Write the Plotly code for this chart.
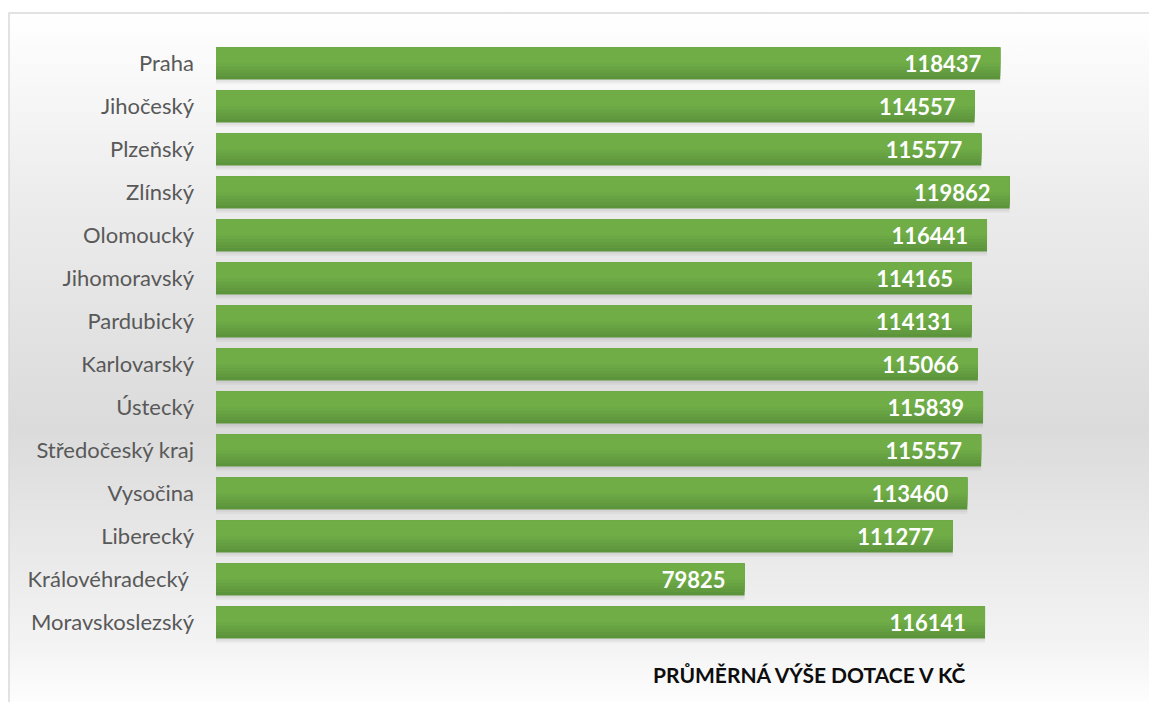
import base64
import plotly.graph_objects as go

# ---- data ----
regions = ["Praha", "Jihočeský", "Plzeňský", "Zlínský", "Olomoucký", "Jihomoravský",
           "Pardubický", "Karlovarský", "Ústecký", "Středočeský kraj", "Vysočina",
           "Liberecký", "Královéhradecký ", "Moravskoslezský"]
values = [118437, 114557, 115577, 119862, 116441, 114165, 114131, 115066, 115839,
          115557, 113460, 111277, 79825, 116141]
title_text = "PRŮMĚRNÁ VÝŠE DOTACE V KČ"

# ---- layout geometry (pixels; page body has an 8px margin) ----
OFF = 8
W, H = 1157 - OFF, 702 - OFF
ML, MR, MT, MB = 216 - OFF, 14, 42 - OFF, 58
PW, PH = W - ML - MR, H - MT - MB


def px_x(px):  # screen px -> paper
    return (px - OFF - ML) / PW


def px_y(py):
    return (H - MB - (py - OFF)) / PH


# background gradient (white -> gray -> white, vertical)
svg = (
    '<svg xmlns="http://www.w3.org/2000/svg" width="100" height="100" preserveAspectRatio="none">'
    '<defs><linearGradient id="g" x1="0" y1="0" x2="0" y2="1">'
    '<stop offset="0" stop-color="#ffffff"/>'
    '<stop offset="0.27" stop-color="#ececec"/>'
    '<stop offset="0.6" stop-color="#dbdbdb"/>'
    '<stop offset="0.92" stop-color="#f4f4f4"/>'
    '<stop offset="1" stop-color="#fefefe"/>'
    '</linearGradient></defs>'
    '<rect x="0" y="0" width="100" height="100" fill="url(#g)"/></svg>'
)
bg_src = "data:image/svg+xml;base64," + base64.b64encode(svg.encode()).decode()

ticktext = [r.replace(" ", "\u00a0") for r in regions]

fig = go.Figure()

bw = 0.745
# soft shadow
fig.add_trace(go.Bar(y=regions, x=values, orientation="h", width=bw + 0.05,
                     offset=-bw / 2 + 0.05, marker=dict(color="rgba(0,0,0,0.045)", line=dict(width=0)),
                     hoverinfo="skip", showlegend=False))
fig.add_trace(go.Bar(y=regions, x=values, orientation="h", width=bw + 0.02,
                     offset=-bw / 2 + 0.03, marker=dict(color="rgba(0,0,0,0.04)", line=dict(width=0)),
                     hoverinfo="skip", showlegend=False))

# gradient layers for the bars (dark bottom -> light top)
dark = (92, 148, 60)
light = (112, 173, 71)
fracs = [1.0, 0.9, 0.8, 0.7, 0.6, 0.5]
n = len(fracs)
for i, f in enumerate(fracs):
    t = i / (n - 1)
    c = tuple(round(dark[k] + (light[k] - dark[k]) * t) for k in range(3))
    fig.add_trace(go.Bar(y=regions, x=values, orientation="h", width=bw * f,
                         offset=-bw / 2, marker=dict(color="rgb(%d,%d,%d)" % c, line=dict(width=0)),
                         hoverinfo="skip", showlegend=False))

# value labels
fig.add_trace(go.Bar(y=regions, x=values, orientation="h", width=bw, offset=-bw / 2,
                     marker=dict(color="rgba(0,0,0,0)", line=dict(width=0)),
                     texttemplate="%{x:d}\u00a0\u00a0\u00a0", textposition="inside",
                     insidetextanchor="end", constraintext="none",
                     textfont=dict(family="Lato", size=22, color="white", weight="bold"),
                     hoverinfo="skip", showlegend=False))

fig.update_layout(
    width=W, height=H,
    margin=dict(l=ML, r=MR, t=MT, b=MB, pad=0),
    barmode="overlay",
    paper_bgcolor="white",
    plot_bgcolor="rgba(0,0,0,0)",
    showlegend=False,
    xaxis=dict(range=[0, 140000], visible=False, showgrid=False, zeroline=False),
    yaxis=dict(categoryorder="array", categoryarray=regions, autorange="reversed",
               tickmode="array", tickvals=regions, ticktext=ticktext,
               showgrid=False, zeroline=False, showline=False, ticks="",
               ticklabelstandoff=21,
               tickfont=dict(family="Lato", size=22, color="#595959")),
    images=[dict(source=bg_src, xref="paper", yref="paper",
                 x=px_x(9), y=px_y(13), sizex=(1160 - 9) / PW, sizey=(705 - 13) / PH,
                 xanchor="left", yanchor="top", sizing="stretch", layer="below")],
    shapes=[dict(type="rect", xref="paper", yref="paper",
                 x0=px_x(9), x1=px_x(1175), y0=px_y(720), y1=px_y(13),
                 line=dict(color="#d9d9d9", width=1.5), fillcolor="rgba(0,0,0,0)", layer="above")],
    annotations=[dict(text=title_text, xref="paper", yref="paper",
                      x=px_x(809), y=px_y(674), xanchor="center", yanchor="middle",
                      showarrow=False,
                      font=dict(family="Lato", size=21, color="#0d0d0d", weight="bold"))],
)

fig.write_html("out.html")
